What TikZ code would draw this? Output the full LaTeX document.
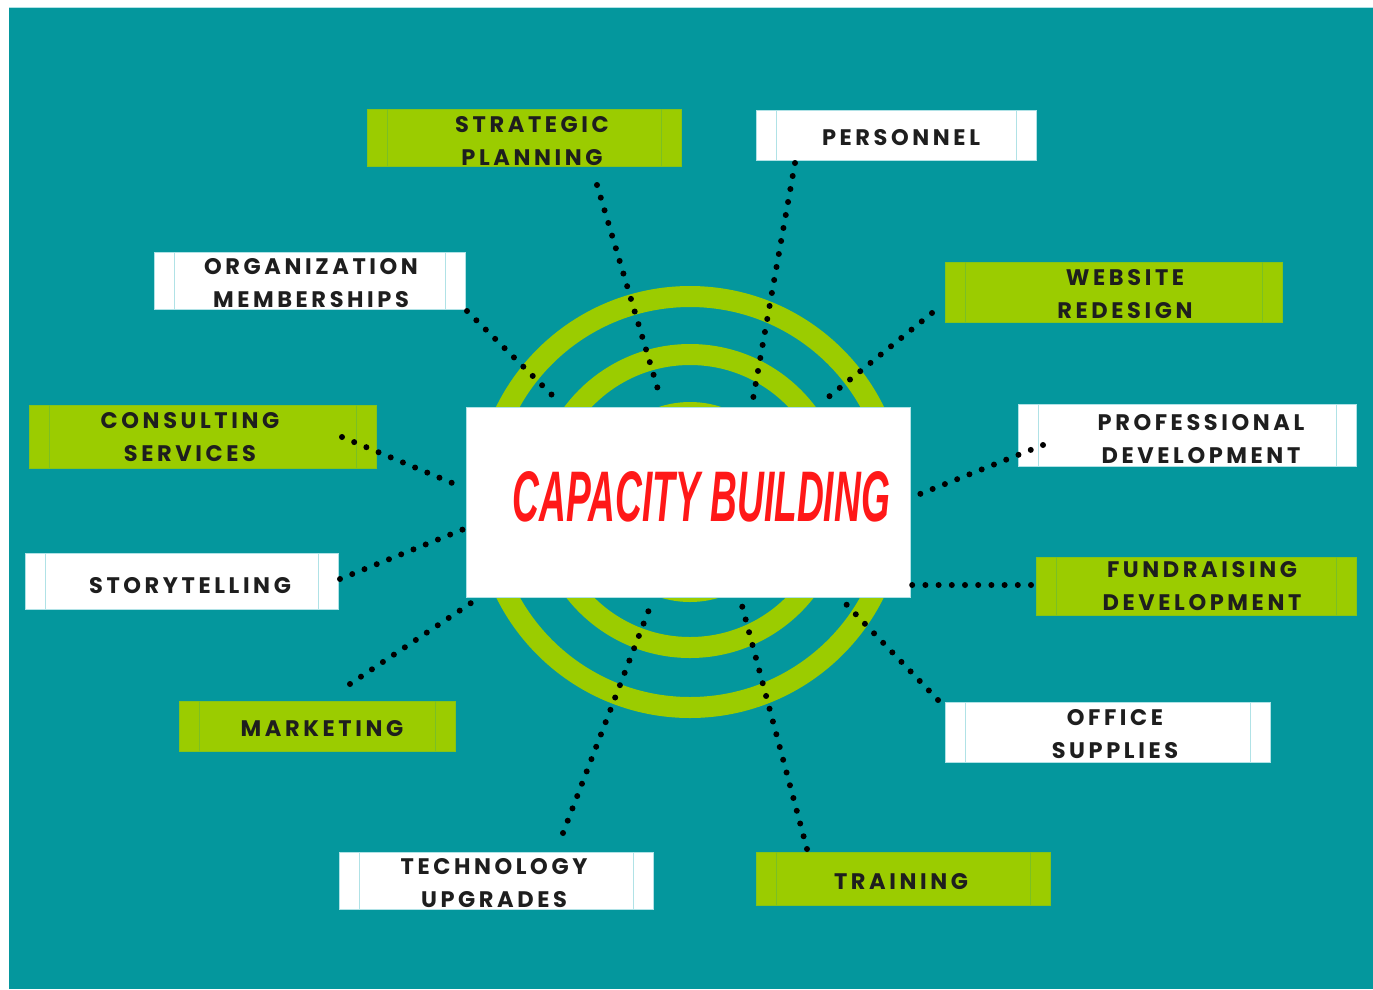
\documentclass[tikz,border=0pt]{standalone}
\usepackage{graphicx}
\usepackage{fontspec}
\setmainfont{Liberation Sans}
\newfontfamily\lblfont{Poppins}[LetterSpace=16]
\definecolor{teal0}{RGB}{4,151,157}
\definecolor{lime0}{RGB}{155,204,0}
\definecolor{ink}{RGB}{30,30,30}
\definecolor{red0}{RGB}{255,24,24}
\definecolor{guide}{RGB}{176,226,230}
\tikzset{
  gbox/.style={fill=lime0, draw=lime0!85!teal0, line width=0.8pt},
  wbox/.style={fill=white, draw=guide, line width=0.8pt},
  gbox guide/.style={draw=lime0!78!teal0, line width=0.7pt},
  wbox guide/.style={draw=guide, line width=0.7pt},
  lbltext/.style={font=\lblfont\bfseries\fontsize{22.5}{33}\selectfont, text=ink, align=center, inner sep=0pt},
  ring/.style={draw=lime0, line width=21pt},
  dotline/.style={draw=black, line width=6pt, line cap=round, dash pattern=on 0pt off 13.2pt},
}
\newcommand{\lbox}[9]{%
  \node[#6, inner sep=0pt, outer sep=0pt, minimum width={#4-#2}, minimum height={#5-#3}] (#1) at ({(#2+#4)/2},{(#3+#5)/2}) {};
  \draw[#6 guide] ([xshift=20pt]#1.north west) -- ([xshift=20pt]#1.south west);
  \draw[#6 guide] ([xshift=-20pt]#1.north east) -- ([xshift=-20pt]#1.south east);
  \node[lbltext] (#1-t) at (#7,#8) {#9};
}
\begin{document}
\begin{tikzpicture}[x=1pt,y=-1pt]
\useasboundingbox (0,0) rectangle (1373,989);
\fill[white] (0,0) rectangle (1373,989);
\fill[teal0] (9,8) rectangle (1373,989);
\draw[guide, line width=1pt] (9,7.5) -- (1373,7.5);
% rings
\draw[ring] (690,502) circle[radius=205.5];
\draw[ring] (690,501) circle[radius=146.5];
\fill[lime0] (690,502) circle[radius=100];
% central box
\node[fill=white, draw=guide, line width=0.6pt, inner sep=0pt, minimum width=444, minimum height=190] (cb) at (688,502) {};
\node[inner sep=0pt, text=red0] (title) at (701.5,497) {\resizebox{377pt}{50pt}{\bfseries\itshape CAPACITY BUILDING}};
% label boxes
\lbox{sp}{367}{109}{681}{166}{gbox}{532}{141.5}{STRATEGIC\\PLANNING}
\lbox{pe}{756}{110}{1036}{160}{wbox}{901}{138}{PERSONNEL}
\lbox{om}{154}{252}{465}{309}{wbox}{311}{283.5}{ORGANIZATION\\MEMBERSHIPS}
\lbox{wr}{945}{262}{1282}{322}{gbox}{1125}{294}{WEBSITE\\REDESIGN}
\lbox{cs}{29}{405}{376}{468}{gbox}{190}{437}{CONSULTING\\SERVICES}
\lbox{pd}{1018}{404}{1356}{466}{wbox}{1201}{439}{PROFESSIONAL\\DEVELOPMENT}
\lbox{st}{25}{553}{338}{609}{wbox}{190}{585.5}{STORYTELLING}
\lbox{fd}{1036}{557}{1356}{615}{gbox}{1202}{586}{FUNDRAISING\\DEVELOPMENT}
\lbox{mk}{179}{701}{455}{751}{gbox}{322}{729}{MARKETING}
\lbox{os}{945}{702}{1270}{762}{wbox}{1115}{734}{OFFICE\\SUPPLIES}
\lbox{tu}{339}{852}{653}{909}{wbox}{494}{883}{TECHNOLOGY\\UPGRADES}
\lbox{tr}{756}{852}{1050}{905}{gbox}{901}{882}{TRAINING}
% connector ends
\coordinate (sp-a) at (597,185); \coordinate (sp-b) at (659,393);
\coordinate (pe-a) at (795,163); \coordinate (pe-b) at (753,399);
\coordinate (om-a) at (467,311); \coordinate (om-b) at (553,396);
\coordinate (wr-a) at (932,313); \coordinate (wr-b) at (826,399);
\coordinate (cs-a) at (342,437); \coordinate (cs-b) at (457,485);
\coordinate (pd-a) at (1043,445); \coordinate (pd-b) at (920,494);
\coordinate (st-a) at (340,579); \coordinate (st-b) at (464,529);
\coordinate (fd-a) at (1031,585); \coordinate (fd-b) at (910,585);
\coordinate (mk-a) at (350,684); \coordinate (mk-b) at (474,601);
\coordinate (os-a) at (938,700); \coordinate (os-b) at (845,603);
\coordinate (tu-a) at (563,833); \coordinate (tu-b) at (650,607);
\coordinate (tr-a) at (807,849); \coordinate (tr-b) at (741,602);
\foreach \n in {sp,pe,om,wr,cs,pd,st,fd,mk,os,tu,tr}
  \draw[dotline] (\n-a) -- (\n-b);
\end{tikzpicture}
\end{document}
